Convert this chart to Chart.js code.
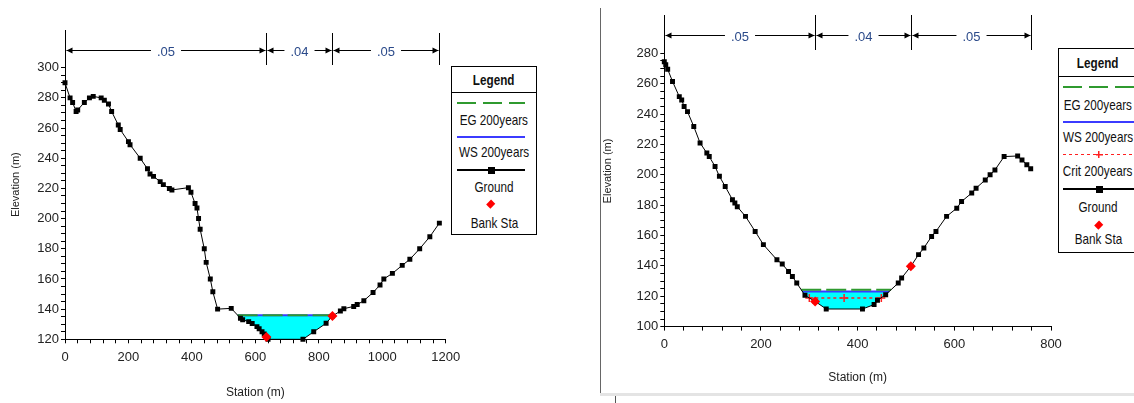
<!DOCTYPE html>
<html>
<head>
<meta charset="utf-8">
<script src="https://cdn.jsdelivr.net/npm/chart.js@4.4.0/dist/chart.umd.min.js"></script>
<style>
  html, body { margin: 0; padding: 0; background: #fff; overflow: hidden; }
  body { width: 1134px; height: 403px; position: relative;
         font-family: "Liberation Sans", Arial, sans-serif; }
  canvas { position: absolute; top: 0; }
  #leftChart { left: 0; }
  #rightChart { left: 600px; }
  .legend { position: absolute; background: #fff; border: 1px solid #000; box-sizing: border-box; color: #111; font-size: 15px; }
  .legend .item { position: absolute; left: -30px; right: -30px; height: 18px; line-height: 18px; text-align: center; white-space: nowrap; }
  .legend .item span { display: inline-block; transform: scaleX(0.78); }
  .legend .title { font-weight: bold; }
  .legend .rule { position: absolute; left: 0; right: 0; border-top: 1px solid #000; }
  .sample { position: absolute; }
  #sep { position: absolute; left: 600px; top: 8px; width: 1px; height: 385px; background: #666; }
  #band { position: absolute; left: 600px; top: 393px; width: 534px; height: 3px; background: #e4e4e4; }
  #bandTick { position: absolute; left: 615px; top: 396px; width: 1px; height: 7px; background: #555; }
</style>
</head>
<body>
<canvas id="leftChart" width="560" height="403"></canvas>
<canvas id="rightChart" width="534" height="403"></canvas>
<div id="sep"></div>
<div id="band"></div>
<div id="bandTick"></div>
<div id="leftLegend" class="legend" style="left:451px; top:66px; width:86px; height:169px;"></div>
<div id="rightLegend" class="legend" style="left:1058px; top:48px; width:80px; height:205px;"></div>
<script>
// ---- left cross section ----
const leftStation = [0, 16, 24, 35, 40, 61, 77, 89, 114, 124, 137, 147, 168, 174, 200, 205, 237, 260, 268, 279,
  300, 310, 329, 337, 389, 397, 410, 416, 421, 426, 439, 445, 458, 466, 481, 524, 553, 560, 579, 590, 605, 612,
  621, 628, 640, 750, 784, 823, 842, 868, 879, 910, 921, 942, 971, 993, 1005, 1032, 1063, 1087, 1118, 1150, 1180];
const leftElev = [290, 280, 277, 271, 272, 277, 280, 281, 280, 278.5, 276, 271, 262, 259, 251, 249, 240, 233, 229.5, 228,
  224.5, 222.5, 220, 219, 220.5, 217.5, 210, 207, 200, 193, 180, 171, 160, 151.5, 140, 140.5, 134, 133, 131.7, 130.5, 128.4, 127,
  125, 123.5, 120, 120, 125, 130.6, 135.3, 138.7, 140.3, 141.8, 143, 145.6, 151, 156, 160, 163.7, 169, 173, 180, 188, 197];
const leftBankStation = [635, 843];
const leftBankElev = [121.5, 135.4];
const leftWS = 135.9;
const leftEG = 136.0;
const leftN = ['.05', '.04', '.05'];
const leftXLabels = [0, 200, 400, 600, 800, 1000, 1200];
const leftYLabels = [120, 140, 160, 180, 200, 220, 240, 260, 280, 300];

// ---- right cross section ----
const rightStation = [0, 3, 7, 17, 31, 36, 41, 48, 61, 74, 88, 93, 105, 114, 126, 141, 146, 151, 168, 188, 205, 233,
  244, 257, 265, 274, 291, 312, 335, 410, 434, 441, 458, 484, 491, 510, 526, 537, 553, 562, 584, 605, 615, 636, 645,
  664, 674, 684, 703, 731, 740, 750, 758];
const rightElev = [274.5, 272.5, 269.5, 261.5, 251.5, 249.3, 245, 241.6, 231.8, 221, 214.3, 212, 205.5, 199, 192.3, 183.6, 181.4, 179, 172.6, 162.7, 154, 144,
  141.2, 136.3, 133, 128.7, 120.6, 116.6, 111.6, 111.6, 114.5, 117.3, 121, 128.7, 132, 139.7, 147.4, 151.8, 159.4, 162.7, 172.6, 178, 182.4, 188, 191.2,
  196.6, 200, 203.2, 212, 212.4, 209.8, 206.6, 204];
const rightBankStation = [312, 510];
const rightBankElev = [116.6, 139.7];
const rightWS = 123.2;
const rightEG = 124.3;
const rightCrit = 118.9;
const rightCritStation = [300, 372, 449];
const rightN = ['.05', '.04', '.05'];
const rightXLabels = [0, 200, 400, 600, 800];
const rightYLabels = [100, 120, 140, 160, 180, 200, 220, 240, 260, 280];

const minorX = 40;
const minorY = 5;

const FONT = '"Liberation Sans", Arial, sans-serif';
const EG_COLOR = '#2f9a2f';
const WS_COLOR = '#3b3bff';
const CRIT_COLOR = '#ff2020';
const WATER = '#00ffff';

Chart.defaults.font.family = FONT;
Chart.defaults.color = '#222';

function range(a, b, step) {
  const out = [];
  for (let v = a; v <= b + 1e-9; v += step) out.push(v);
  return out;
}

function pts(xs, ys) {
  return xs.map((x, i) => ({ x, y: ys[i] }));
}

// wetted area around the lowest ground point, cut at a water level
function wetted(st, el, level) {
  const iMin = el.indexOf(Math.min(...el));
  let i = iMin;
  while (i > 0 && el[i - 1] < level) i--;
  let j = iMin;
  while (j < el.length - 1 && el[j + 1] < level) j++;
  const xl = st[i - 1] + (level - el[i - 1]) * (st[i] - st[i - 1]) / (el[i] - el[i - 1]);
  const xr = st[j] + (level - el[j]) * (st[j + 1] - st[j]) / (el[j + 1] - el[j]);
  const poly = [{ x: xl, y: level }];
  for (let k = i; k <= j; k++) poly.push({ x: st[k], y: el[k] });
  poly.push({ x: xr, y: level });
  return { xl, xr, poly };
}

// Manning's n brackets above the section
const nValuePlugin = {
  id: 'nValues',
  afterDraw(chart, args, opts) {
    const ctx = chart.ctx;
    const xs = chart.scales.x;
    const px = opts.breaks.map(b => Math.round(xs.getPixelForValue(b)) + 0.5);
    const y = opts.y + 0.5;
    ctx.save();
    ctx.strokeStyle = '#000';
    ctx.fillStyle = '#000';
    ctx.lineWidth = 1;
    px.forEach(p => {
      ctx.beginPath();
      ctx.moveTo(p, opts.top);
      ctx.lineTo(p, opts.bottom);
      ctx.stroke();
    });
    ctx.font = '13px ' + FONT;
    ctx.textAlign = 'center';
    ctx.textBaseline = 'middle';
    const arrow = (x, dir) => {
      ctx.beginPath();
      ctx.moveTo(x, y);
      ctx.lineTo(x + dir * 6, y - 3);
      ctx.lineTo(x + dir * 6, y + 3);
      ctx.closePath();
      ctx.fill();
    };
    opts.labels.forEach((lab, i) => {
      const a = px[i] + 1, b = px[i + 1] - 1, mid = (px[i] + px[i + 1]) / 2;
      const gap = ctx.measureText(lab).width / 2 + 6;
      ctx.beginPath();
      ctx.moveTo(a, y); ctx.lineTo(mid - gap, y);
      ctx.moveTo(mid + gap, y); ctx.lineTo(b, y);
      ctx.stroke();
      arrow(a, 1);
      arrow(b, -1);
      ctx.fillStyle = '#2b4a8a';
      ctx.fillText(lab, mid, y + 2);
      ctx.fillStyle = '#000';
    });
    ctx.restore();
  }
};

function makeSection(canvas, cfg) {
  const water = wetted(cfg.station, cfg.elev, cfg.ws);
  const eg = wetted(cfg.station, cfg.elev, cfg.eg);
  const datasets = [
    {
      label: 'Bank Sta', data: pts(cfg.bankStation, cfg.bankElev), showLine: false,
      pointStyle: 'rectRot', pointRadius: 5, backgroundColor: '#ff0000', borderColor: '#ff0000', borderWidth: 0,
      order: 0, clip: 10
    },
    {
      label: 'Ground', data: pts(cfg.station, cfg.elev), borderColor: '#000', borderWidth: 1,
      pointStyle: 'rect', pointRadius: 3.5, pointBackgroundColor: '#000', pointBorderWidth: 0,
      order: 1, clip: 10
    },
    {
      label: 'EG', data: [{ x: eg.xl, y: cfg.eg }, { x: eg.xr, y: cfg.eg }], borderColor: EG_COLOR,
      borderWidth: 2, borderDash: [20, 5], pointRadius: 0, order: 2
    },
    {
      label: 'WS', data: [{ x: water.xl, y: cfg.ws }, { x: water.xr, y: cfg.ws }], borderColor: WS_COLOR,
      borderWidth: 2, pointRadius: 0, order: 4
    },
    {
      label: 'water', data: water.poly, borderWidth: 0, borderColor: WATER, backgroundColor: WATER,
      fill: 'shape', pointRadius: 0, order: 10
    }
  ];
  if (cfg.crit !== undefined) {
    datasets.push({
      label: 'Crit', data: cfg.critStation.map(x => ({ x, y: cfg.crit })), borderColor: CRIT_COLOR,
      borderWidth: 1.5, borderDash: [3, 3], pointStyle: 'cross', pointRadius: 4, pointBorderColor: CRIT_COLOR,
      pointBorderWidth: 1.5, order: 3
    });
  }

  return new Chart(canvas, {
    type: 'line',
    data: { datasets },
    plugins: [nValuePlugin],
    options: {
      responsive: false,
      animation: false,
      devicePixelRatio: 1,
      layout: { padding: { left: 0, top: cfg.padTop, right: cfg.padRight, bottom: 0 } },
      plugins: {
        legend: { display: false },
        tooltip: { enabled: false },
        nValues: {
          breaks: [cfg.station[0], cfg.bankStation[0], cfg.bankStation[1], cfg.station[cfg.station.length - 1]],
          labels: cfg.n, y: cfg.bracketY, top: cfg.bracketTop, bottom: cfg.bracketBottom
        }
      },
      scales: {
        x: {
          type: 'linear', min: cfg.xMin, max: cfg.xMax,
          afterBuildTicks: s => { s.ticks = range(cfg.xMin, cfg.xMax, minorX).map(v => ({ value: v })); },
          afterFit: s => { s.height = cfg.xHeight; },
          ticks: {
            autoSkip: false, maxRotation: 0, padding: 6, color: '#222',
            font: { size: 13 },
            callback: v => cfg.xLabels.includes(v) ? String(v) : ''
          },
          grid: { drawOnChartArea: false, drawTicks: true, tickLength: 4, color: '#000' },
          border: { display: true, color: '#000', width: 1 },
          title: { display: true, text: 'Station (m)', color: '#222', font: { size: 12 }, padding: { top: 0, bottom: cfg.xTitlePad } }
        },
        y: {
          type: 'linear', min: cfg.yMin, max: cfg.yMax,
          afterBuildTicks: s => {
            s.ticks = range(cfg.yMin, cfg.yLabels[cfg.yLabels.length - 1], minorY).map(v => ({ value: v }));
          },
          afterFit: s => { s.width = cfg.yWidth; },
          ticks: {
            autoSkip: false, padding: 2, color: '#222',
            font: { size: 13 },
            callback: v => cfg.yLabels.includes(v) ? String(v) : ''
          },
          grid: { drawOnChartArea: false, drawTicks: true, tickLength: 4, color: '#000' },
          border: { display: true, color: '#000', width: 1 },
          title: { display: true, text: 'Elevation (m)', color: '#222', font: { size: 11 }, padding: { top: cfg.yTitlePad, bottom: 0 } }
        }
      }
    }
  });
}

makeSection(document.getElementById('leftChart'), {
  station: leftStation, elev: leftElev, bankStation: leftBankStation, bankElev: leftBankElev,
  ws: leftWS, eg: leftEG, n: leftN, xLabels: leftXLabels, yLabels: leftYLabels,
  xMin: 0, xMax: 1200, yMin: 120, yMax: 325,
  padTop: 30, padRight: 114.3, xHeight: 63.7, yWidth: 65,
  xTitlePad: 3, yTitlePad: 9,
  bracketY: 50, bracketTop: 33, bracketBottom: 65
});

makeSection(document.getElementById('rightChart'), {
  station: rightStation, elev: rightElev, bankStation: rightBankStation, bankElev: rightBankElev,
  ws: rightWS, eg: rightEG, crit: rightCrit, critStation: rightCritStation,
  n: rightN, xLabels: rightXLabels, yLabels: rightYLabels,
  xMin: 0, xMax: 800, yMin: 100, yMax: 305,
  padTop: 15.4, padRight: 83, xHeight: 76.4, yWidth: 64.3,
  xTitlePad: 18, yTitlePad: 1,
  bracketY: 35, bracketTop: 15, bracketBottom: 50
});

// ---- legends ----
function addText(box, text, cy, cls) {
  const d = document.createElement('div');
  d.className = 'item' + (cls ? ' ' + cls : '');
  d.style.top = (cy - 9) + 'px';
  const s = document.createElement('span');
  s.textContent = text;
  d.appendChild(s);
  box.appendChild(d);
}
function addRule(box, y) {
  const d = document.createElement('div');
  d.className = 'rule';
  d.style.top = y + 'px';
  box.appendChild(d);
}
function addSample(box, cy, x0, x1, css) {
  const d = document.createElement('div');
  d.className = 'sample';
  d.style.left = x0 + 'px';
  d.style.width = (x1 - x0) + 'px';
  Object.assign(d.style, css);
  d.style.top = (cy - parseFloat(css.height) / 2) + 'px';
  box.appendChild(d);
  return d;
}
function addMark(box, cx, cy, size, css) {
  const d = document.createElement('div');
  d.className = 'sample';
  d.style.left = (cx - size / 2) + 'px';
  d.style.top = (cy - size / 2) + 'px';
  d.style.width = size + 'px';
  d.style.height = size + 'px';
  Object.assign(d.style, css);
  box.appendChild(d);
}

function buildLegend(box, rows, x0, x1) {
  const cx = (x0 + x1) / 2;
  addText(box, 'Legend', rows.title, 'title');
  addRule(box, rows.rule);
  addSample(box, rows.egLine, x0, x1, { height: '2px',
    background: 'repeating-linear-gradient(to right, ' + EG_COLOR + ' 0 19px, transparent 19px 26px)' });
  addText(box, 'EG 200years', rows.egText);
  addSample(box, rows.wsLine, x0, x1, { height: '2px', background: WS_COLOR });
  addText(box, 'WS 200years', rows.wsText);
  if (rows.critLine !== undefined) {
    addSample(box, rows.critLine, x0, x1, { height: '1px',
      background: 'repeating-linear-gradient(to right, ' + CRIT_COLOR + ' 0 3px, transparent 3px 6px)' });
    addMark(box, cx, rows.critLine, 7, { background:
      'linear-gradient(' + CRIT_COLOR + ',' + CRIT_COLOR + ') center/1.5px 100% no-repeat,' +
      'linear-gradient(' + CRIT_COLOR + ',' + CRIT_COLOR + ') center/100% 1.5px no-repeat' });
    addText(box, 'Crit 200years', rows.critText);
  }
  addSample(box, rows.groundLine, x0, x1, { height: '2px', background: '#000' });
  addMark(box, cx, rows.groundLine, 7, { background: '#000' });
  addText(box, 'Ground', rows.groundText);
  addMark(box, cx, rows.bankMark, 5.5, { background: '#ff0000', transform: 'rotate(45deg) scale(1, 1.15)' });
  addText(box, 'Bank Sta', rows.bankText);
}

buildLegend(document.getElementById('leftLegend'), {
  title: 13, rule: 25, egLine: 35.7, egText: 53.3, wsLine: 70, wsText: 84.7,
  groundLine: 103, groundText: 120, bankMark: 136.3, bankText: 155.7
}, 5, 73);

buildLegend(document.getElementById('rightLegend'), {
  title: 14, rule: 27, egLine: 37.7, egText: 56.3, wsLine: 73, wsText: 87.7,
  critLine: 105.3, critText: 122, groundLine: 140.3, groundText: 157.7, bankMark: 175.3, bankText: 189.7
}, 4, 76);
</script>
</body>
</html>
